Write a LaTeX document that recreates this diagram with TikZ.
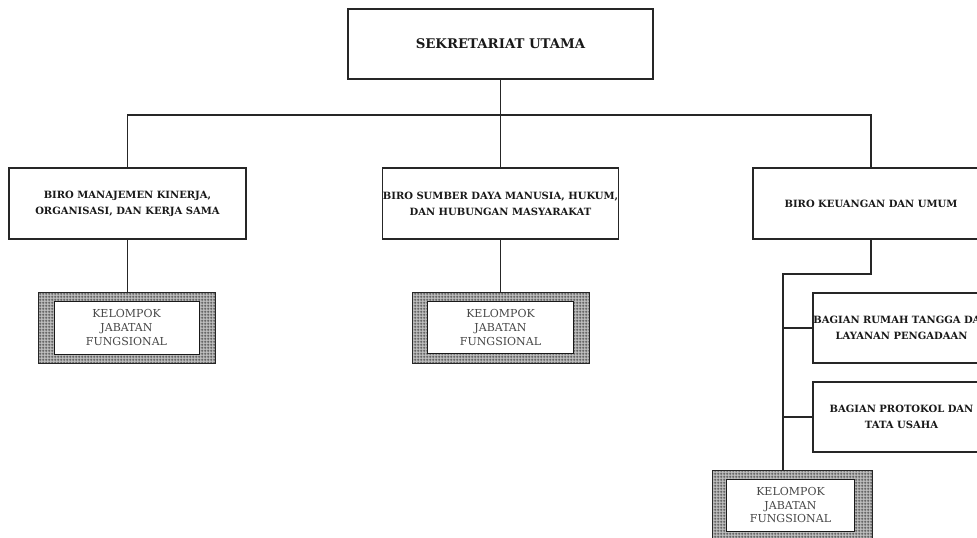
\documentclass[tikz,border=0pt]{standalone}
\usepackage{fontspec}
\setmainfont{DejaVu Serif}
\usetikzlibrary{patterns.meta}
\tikzdeclarepattern{
  name=finegrid,
  type=uncolored,
  bounding box={(0pt,0pt) and (3pt,3pt)},
  tile size={(3pt,3pt)},
  code={
    \draw[line width=0.8pt] (0pt,1.5pt) -- (3pt,1.5pt);
    \draw[line width=0.8pt] (1.5pt,0pt) -- (1.5pt,3pt);
  }
}
\tikzset{
  box/.style={draw=black!85, line width=1.2pt, fill=white, inner sep=0pt, align=center, text=black!90, font=\bfseries\fontsize{10}{16}\selectfont},
  link/.style={draw=black!85, line width=1.2pt},
  kframe/.style={draw=black!85, line width=1pt, inner sep=0pt, preaction={fill=gray!50}, pattern=finegrid, pattern color=black!85},
  kinner/.style={draw=black!90, line width=1pt, fill=white, inner sep=0pt, align=center, text=black!72, font=\fontsize{11}{13.8}\selectfont}
}
\begin{document}
\begin{tikzpicture}[x=1pt,y=-1pt]
\useasboundingbox (0,0) rectangle (977,538);
\clip (0,0) rectangle (977,538);
\fill[white] (0,0) rectangle (977,538);

% top
\node[box, minimum width=305, minimum height=70, font=\bfseries\fontsize{13.3}{15}\selectfont] (top) at (500.5,44) {SEKRETARIAT UTAMA};

% level 2
\node[box, minimum width=237, minimum height=71] (biro1) at (127.5,203.5) {BIRO MANAJEMEN KINERJA,\\ORGANISASI, DAN KERJA SAMA};
\node[box, minimum width=235, minimum height=71] (biro2) at (500.5,203.5) {BIRO SUMBER DAYA MANUSIA, HUKUM,\\DAN HUBUNGAN MASYARAKAT};
\node[box, minimum width=236, minimum height=71] (biro3) at (871,203.5) {BIRO KEUANGAN DAN UMUM};

% kelompok left
\node[kframe, minimum width=177, minimum height=71] (k1) at (126.5,327.5) {};
\node[kinner, minimum width=145, minimum height=53] (k1i) at (k1.center) {KELOMPOK\\JABATAN\\FUNGSIONAL};
% kelompok middle
\node[kframe, minimum width=177, minimum height=71] (k2) at (500.5,327.5) {};
\node[kinner, minimum width=146, minimum height=52] (k2i) at (k2.center) {KELOMPOK\\JABATAN\\FUNGSIONAL};
% kelompok right
\node[kframe, minimum width=160, minimum height=70] (k3) at (792,505) {};
\node[kinner, minimum width=128, minimum height=52] (k3i) at (790.5,505) {KELOMPOK\\JABATAN\\FUNGSIONAL};

% bagian
\node[box, minimum width=177, minimum height=70] (bag1) at (901.5,328) {BAGIAN RUMAH TANGGA DAN\\LAYANAN PENGADAAN};
\node[box, minimum width=177, minimum height=70] (bag2) at (901.5,417) {BAGIAN PROTOKOL DAN\\TATA USAHA};

% connectors
\coordinate (bus) at (0,115);
\draw[link] (top.south) -- (top.south |- bus);
\draw[link] (biro1.north) |- (bus -| biro3.north) -- (biro3.north);
\draw[link] (biro2.north) -- (biro2.north |- bus);
\draw[link] (biro1.south) -- (biro1.south |- k1.north);
\draw[link] (biro2.south) -- (biro2.south |- k2.north);
\coordinate (rb) at (783,274);
\draw[link] (biro3.south) |- (rb) -- (rb |- k3.north);
\draw[link] (rb |- bag1.west) -- (bag1.west);
\draw[link] (rb |- bag2.west) -- (bag2.west);
\end{tikzpicture}
\end{document}
